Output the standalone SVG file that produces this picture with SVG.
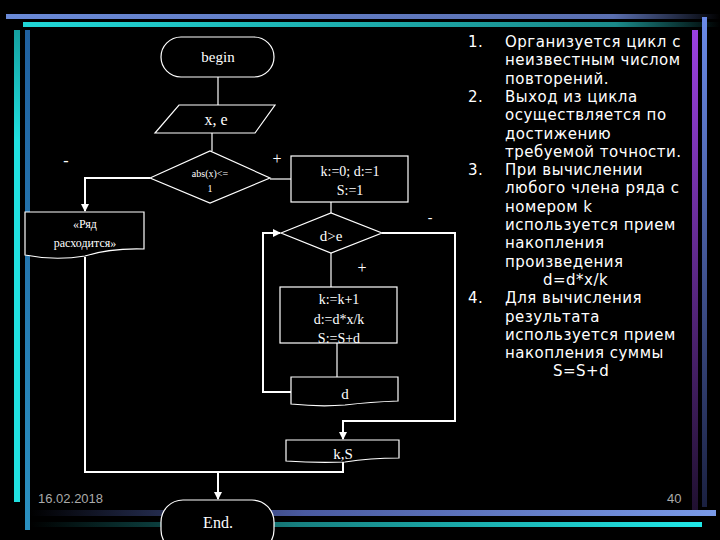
<svg xmlns="http://www.w3.org/2000/svg" width="720" height="540" viewBox="0 0 720 540">
<defs>
<linearGradient id="gb" x1="0" x2="1"><stop offset="0" stop-color="#6a8ad8"/><stop offset="0.85" stop-color="#5a6fb0"/><stop offset="1" stop-color="#000"/></linearGradient>
<linearGradient id="gc" x1="0" x2="1"><stop offset="0" stop-color="#20d8d8"/><stop offset="0.85" stop-color="#1a8a8a"/><stop offset="1" stop-color="#000"/></linearGradient>
<linearGradient id="bb" x1="0" x2="1"><stop offset="0" stop-color="#000"/><stop offset="0.4" stop-color="#4a5aa0"/><stop offset="1" stop-color="#7a9ae8"/></linearGradient>
<linearGradient id="bc" x1="0" x2="1"><stop offset="0" stop-color="#000"/><stop offset="0.4" stop-color="#178080"/><stop offset="1" stop-color="#20e8e8"/></linearGradient>
<linearGradient id="vp" x1="0" y1="0" x2="0" y2="1"><stop offset="0" stop-color="#9a40e0"/><stop offset="1" stop-color="#201030"/></linearGradient>
<linearGradient id="vb" x1="0" y1="0" x2="0" y2="1"><stop offset="0" stop-color="#6a8ae8"/><stop offset="1" stop-color="#1a2040"/></linearGradient>
<linearGradient id="lc" x1="0" y1="0" x2="0" y2="1"><stop offset="0" stop-color="#15a0a0"/><stop offset="0.5" stop-color="#20e0e0"/><stop offset="1" stop-color="#20e0e0"/></linearGradient>
<linearGradient id="lb" x1="0" y1="0" x2="0" y2="1"><stop offset="0" stop-color="#2060a0"/><stop offset="1" stop-color="#2a90c0"/></linearGradient>
<marker id="ar" markerWidth="8" markerHeight="8" refX="7" refY="4" orient="auto" markerUnits="userSpaceOnUse"><path d="M0,0 L8,4 L0,8 Z" fill="#fff"/></marker>
</defs>
<style>
.s{fill:#000;stroke:#fff;stroke-width:1.2}
.c{fill:none;stroke:#fff;stroke-width:2}
.l{fill:none;stroke:#fff;stroke-width:1.2}
.t{font-family:"Liberation Serif",serif;fill:#fff;text-anchor:middle}
.r{font-family:"DejaVu Sans",sans-serif;fill:#fff;font-size:15px;letter-spacing:0.5px}
</style>
<rect width="720" height="540" fill="#000"/>
<rect x="6" y="14" width="714" height="5" fill="url(#gb)"/>
<rect x="23" y="22" width="697" height="5" fill="url(#gc)"/>
<rect x="14" y="30" width="6" height="220" fill="url(#lc)"/>
<rect x="14" y="250" width="6" height="252" fill="#20e0e0"/>
<rect x="25" y="30" width="5" height="500" fill="url(#lb)"/>
<rect x="692" y="30" width="6" height="480" fill="url(#vp)"/>
<rect x="702" y="17" width="5" height="490" fill="url(#vb)"/>
<rect x="30" y="510" width="686" height="6" fill="url(#bb)"/>
<rect x="30" y="522" width="672" height="5" fill="url(#bc)"/>
<text x="38" y="503" font-family="Liberation Sans,sans-serif" font-size="13" fill="#aaa">16.02.2018</text>
<text x="667" y="503" font-family="Liberation Sans,sans-serif" font-size="13" fill="#aaa">40</text>

<g id="connectors">
<polyline class="l" points="218,77 218,105"/>
<polyline class="l" points="212,133 212,151"/>
<polyline class="l" points="270,179 291,179"/>
<polyline class="c" points="150,178 85,178 85,211" marker-end="url(#ar)"/>
<polyline class="l" points="331,202 331,213"/>
<polyline class="c" points="291,392 263,392 263,233 280,233" marker-end="url(#ar)"/>
<polyline class="l" points="331,253 331,287"/>
<polyline class="l" points="337,343 337,377"/>
<polyline class="c" points="382,233 455,233 455,421 343,421 343,439" marker-end="url(#ar)"/>
<polyline class="c" points="85,257 85,472 343,472 343,459"/>
<polyline class="c" points="218,472 218,499" marker-end="url(#ar)"/>
<text class="t" x="66" y="166" font-size="16">-</text>
<text class="t" x="277" y="164" font-size="16">+</text>
<text class="t" x="430" y="222" font-size="14">-</text>
<text class="t" x="362" y="273" font-size="16">+</text>
</g>

<g id="begin"><rect class="s" x="161" y="37" width="113" height="40" rx="20"/><text class="t" x="218" y="62" font-size="15">begin</text></g>
<g id="input"><polygon class="s" points="179,105 275,105 255,133 155,133"/><text class="t" x="216" y="125" font-size="16">x, e</text></g>
<g id="cond1"><polygon class="s" points="150,178 210,151 270,178 210,203"/><text class="t" x="210" y="177" font-size="10">abs(x)&lt;=</text><text class="t" x="210" y="192" font-size="10">1</text></g>
<g id="init"><rect class="s" x="291" y="156" width="117" height="46"/><text class="t" x="350" y="176" font-size="14">k:=0; d:=1</text><text class="t" x="350" y="195" font-size="14">S:=1</text></g>
<g id="diverge"><path class="s" d="M25,212 H144 V249 Q110,248 85,256 Q55,261 25,255 Z"/><text class="t" x="85" y="228" font-size="12">«Ряд</text><text class="t" x="85" y="247" font-size="12">расходится»</text></g>
<g id="cond2"><polygon class="s" points="281,233 331,213 382,233 331,253"/><text class="t" x="331" y="241" font-size="15">d&gt;e</text></g>
<g id="body"><rect class="s" x="280" y="287" width="117" height="56"/><text class="t" x="339" y="304" font-size="14">k:=k+1</text><text class="t" x="339" y="324" font-size="14">d:=d*x/k</text><text class="t" x="339" y="343" font-size="14">S:=S+d</text></g>
<g id="outd"><path class="s" d="M291,377 H398 V401 Q370,402 345,405 Q320,407 291,404 Z"/><text class="t" x="345" y="399" font-size="15">d</text></g>
<g id="outks"><path class="s" d="M286,440 H399 V458 Q370,458 345,462 Q315,463 286,461 Z"/><text class="t" x="343" y="459" font-size="15">k,S</text></g>
<g id="end"><rect class="s" x="161" y="500" width="113" height="52" rx="22"/><text class="t" x="218" y="528" font-size="16">End.</text></g>

<g id="notes" class="r">
<text x="468" y="47">1.</text><text x="505" y="47">Организуется цикл с</text>
<text x="505" y="65.3">неизвестным числом</text>
<text x="505" y="83.6">повторений.</text>
<text x="468" y="101.9">2.</text><text x="505" y="101.9">Выход из цикла</text>
<text x="505" y="120.2">осуществляется по</text>
<text x="505" y="138.5">достижению</text>
<text x="505" y="156.8">требуемой точности.</text>
<text x="468" y="175.1">3.</text><text x="505" y="175.1">При вычислении</text>
<text x="505" y="193.4">любого члена ряда с</text>
<text x="505" y="211.7">номером k</text>
<text x="505" y="230">используется прием</text>
<text x="505" y="248.3">накопления</text>
<text x="505" y="266.6">произведения</text>
<text x="543" y="284.9">d=d*x/k</text>
<text x="468" y="303.2">4.</text><text x="505" y="303.2">Для вычисления</text>
<text x="505" y="321.5">результата</text>
<text x="505" y="339.8">используется прием</text>
<text x="505" y="358.1">накопления суммы</text>
<text x="553" y="376.4">S=S+d</text>
</g>
</svg>
